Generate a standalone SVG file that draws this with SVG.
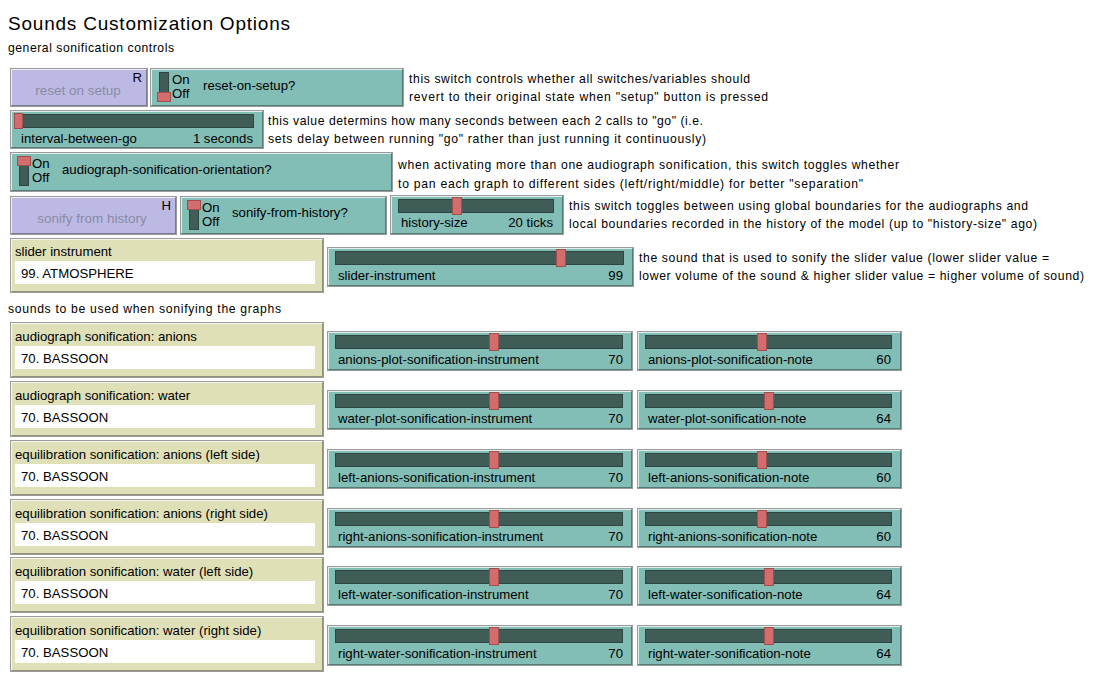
<svg xmlns="http://www.w3.org/2000/svg" width="1098" height="686" viewBox="0 0 1098 686">
<style>
text{font-family:"Liberation Sans",Arial,sans-serif;font-size:13.2px;fill:#000}
.title{font-size:19px}
.d{font-size:12.2px}
.sl,.sw{fill:#82bdb6;stroke:#9b9b9b}
.bt{fill:#bcbae4;stroke:#9b9b9b}
.ch{fill:#dfdfb8;stroke:#9b9b9b}
.hl{fill:none;stroke:#ffffff;stroke-opacity:.75}
.sh{fill:none;stroke:#000;stroke-opacity:.35}
.tr{fill:#405c57;stroke:#2e4542}
.kn{fill:#d36c6c;stroke:#a04e4e}
.slot{fill:#405c57;stroke:#2e4542}
.wb{fill:#fff}
.gt{fill:#8a8aa2;font-size:13.5px}
.end{text-anchor:end}
.mid{text-anchor:middle}
</style>
<rect width="1098" height="686" fill="#fff"/>
<text class="title" x="8" y="30" textLength="282">Sounds Customization Options</text>
<text class="d" x="8" y="52" textLength="166">general sonification controls</text>
<text class="d" x="8" y="313" textLength="273">sounds to be used when sonifying the graphs</text>

<g id="notes">
<text class="d" x="409" y="83" textLength="341">this switch controls whether all switches/variables should</text>
<text class="d" x="409" y="101" textLength="359">revert to their original state when "setup" button is pressed</text>
<text class="d" x="268" y="125" textLength="435">this value determins how many seconds between each 2 calls to "go" (i.e.</text>
<text class="d" x="268" y="143" textLength="438">sets delay between running "go" rather than just running it continuously)</text>
<text class="d" x="398" y="169" textLength="501">when activating more than one audiograph sonification, this switch toggles whether</text>
<text class="d" x="398" y="188" textLength="465">to pan each graph to different sides (left/right/middle) for better "separation"</text>
<text class="d" x="569" y="210" textLength="459">this switch toggles between using global boundaries for the audiographs and</text>
<text class="d" x="569" y="228" textLength="468">local boundaries recorded in the history of the model (up to "history-size" ago)</text>
<text class="d" x="639" y="262" textLength="410">the sound that is used to sonify the slider value (lower slider value =</text>
<text class="d" x="639" y="280" textLength="445">lower volume of the sound &amp; higher slider value = higher volume of sound)</text>
</g>

<g id="btn-reset">
<rect class="bt" x="10.5" y="68.5" width="137" height="38"/>
<path class="hl" d="M11.5,105 V69.5 H146"/><path class="sh" d="M11.5,105.5 H146.5 V69.5"/>
<text class="gt mid" x="78" y="95">reset on setup</text>
<text class="end" x="142" y="82">R</text>
</g>
<g id="sw-reset">
<rect class="sw" x="150.5" y="68.5" width="253" height="38"/>
<path class="hl" d="M151.5,105 V69.5 H402"/><path class="sh" d="M151.5,105.5 H402.5 V69.5"/>
<rect class="slot" x="159.5" y="72.5" width="9" height="29"/>
<rect class="kn" x="157.5" y="92.5" width="13" height="9"/>
<text x="172" y="84">On</text><text x="172" y="98">Off</text>
<text x="203" y="90">reset-on-setup?</text>
</g>
<g id="sl-interval">
<rect class="sl" x="10.5" y="110.5" width="253" height="38"/>
<path class="hl" d="M11.5,147 V111.5 H262"/><path class="sh" d="M11.5,147.5 H262.5 V111.5"/>
<rect class="tr" x="18.5" y="114.5" width="235" height="13"/>
<rect class="kn" x="14.5" y="113.5" width="8" height="15"/>
<text x="21" y="143">interval-between-go</text>
<text class="end" x="253" y="143">1 seconds</text>
</g>
<g id="sw-orient">
<rect class="sw" x="10.5" y="152.5" width="382" height="39"/>
<path class="hl" d="M11.5,190 V153.5 H391"/><path class="sh" d="M11.5,190.5 H391.5 V153.5"/>
<rect class="slot" x="19.5" y="156.5" width="9" height="29"/>
<rect class="kn" x="17.5" y="156.5" width="13" height="9"/>
<text x="32" y="168">On</text><text x="32" y="182">Off</text>
<text x="62" y="174">audiograph-sonification-orientation?</text>
</g>
<g id="btn-history">
<rect class="bt" x="10.5" y="196.5" width="166" height="38"/>
<path class="hl" d="M11.5,233 V197.5 H175"/><path class="sh" d="M11.5,233.5 H175.5 V197.5"/>
<text class="gt mid" x="92" y="223">sonify from history</text>
<text class="end" x="171" y="210">H</text>
</g>
<g id="sw-history">
<rect class="sw" x="180.5" y="196.5" width="206" height="38"/>
<path class="hl" d="M181.5,233 V197.5 H385"/><path class="sh" d="M181.5,233.5 H385.5 V197.5"/>
<rect class="slot" x="189.5" y="200.5" width="9" height="29"/>
<rect class="kn" x="187.5" y="200.5" width="13" height="9"/>
<text x="202" y="212">On</text><text x="202" y="226">Off</text>
<text x="232" y="217">sonify-from-history?</text>
</g>
<g id="sl-history">
<rect class="sl" x="390.5" y="195.5" width="173" height="39"/>
<path class="hl" d="M391.5,233 V196.5 H562"/><path class="sh" d="M391.5,233.5 H562.5 V196.5"/>
<rect class="tr" x="398.5" y="199.5" width="155" height="13"/>
<rect class="kn" x="452.5" y="197.5" width="9" height="17"/>
<text x="401" y="227">history-size</text>
<text class="end" x="553" y="227">20 ticks</text>
</g>
<g id="ch-slider">
<rect class="ch" x="10.5" y="238.5" width="313" height="54"/>
<path class="hl" d="M11.5,291 V239.5 H322"/><path class="sh" d="M11.5,291.5 H322.5 V239.5"/>
<rect class="wb" x="15" y="261" width="300" height="23"/>
<text x="15" y="256">slider instrument</text>
<text x="21" y="278">99. ATMOSPHERE</text>
</g>
<g id="sl-slider">
<rect class="sl" x="327.5" y="247.5" width="306" height="39"/>
<path class="hl" d="M328.5,285 V248.5 H632"/><path class="sh" d="M328.5,285.5 H632.5 V248.5"/>
<rect class="tr" x="335.5" y="251.5" width="288" height="13"/>
<rect class="kn" x="556.5" y="249.5" width="9" height="17"/>
<text x="338" y="280">slider-instrument</text>
<text class="end" x="623" y="280">99</text>
</g>

<g id="row1">
<rect class="ch" x="10.5" y="322.5" width="313" height="55"/>
<path class="hl" d="M11.5,376 V323.5 H322"/><path class="sh" d="M11.5,376.5 H322.5 V323.5"/>
<rect class="wb" x="15" y="346" width="300" height="23"/>
<text x="15" y="341">audiograph sonification: anions</text>
<text x="21" y="363">70. BASSOON</text>
<rect class="sl" x="327.5" y="331.5" width="305" height="39"/>
<path class="hl" d="M328.5,369 V332.5 H631"/><path class="sh" d="M328.5,369.5 H631.5 V332.5"/>
<rect class="tr" x="335.5" y="335.5" width="287" height="13"/>
<rect class="kn" x="489.5" y="333.5" width="9" height="17"/>
<text x="338" y="364">anions-plot-sonification-instrument</text>
<text class="end" x="623" y="364">70</text>
<rect class="sl" x="637.5" y="331.5" width="264" height="39"/>
<path class="hl" d="M638.5,369 V332.5 H900"/><path class="sh" d="M638.5,369.5 H900.5 V332.5"/>
<rect class="tr" x="645.5" y="335.5" width="246" height="13"/>
<rect class="kn" x="757.5" y="333.5" width="9" height="17"/>
<text x="648" y="364">anions-plot-sonification-note</text>
<text class="end" x="891" y="364">60</text>
</g>
<g id="row2">
<rect class="ch" x="10.5" y="381.5" width="313" height="55"/>
<path class="hl" d="M11.5,435 V382.5 H322"/><path class="sh" d="M11.5,435.5 H322.5 V382.5"/>
<rect class="wb" x="15" y="405" width="300" height="23"/>
<text x="15" y="400">audiograph sonification: water</text>
<text x="21" y="422">70. BASSOON</text>
<rect class="sl" x="327.5" y="390.5" width="305" height="39"/>
<path class="hl" d="M328.5,428 V391.5 H631"/><path class="sh" d="M328.5,428.5 H631.5 V391.5"/>
<rect class="tr" x="335.5" y="394.5" width="287" height="13"/>
<rect class="kn" x="489.5" y="392.5" width="9" height="17"/>
<text x="338" y="423">water-plot-sonification-instrument</text>
<text class="end" x="623" y="423">70</text>
<rect class="sl" x="637.5" y="390.5" width="264" height="39"/>
<path class="hl" d="M638.5,428 V391.5 H900"/><path class="sh" d="M638.5,428.5 H900.5 V391.5"/>
<rect class="tr" x="645.5" y="394.5" width="246" height="13"/>
<rect class="kn" x="764.5" y="392.5" width="9" height="17"/>
<text x="648" y="423">water-plot-sonification-note</text>
<text class="end" x="891" y="423">64</text>
</g>
<g id="row3">
<rect class="ch" x="10.5" y="440.5" width="313" height="55"/>
<path class="hl" d="M11.5,494 V441.5 H322"/><path class="sh" d="M11.5,494.5 H322.5 V441.5"/>
<rect class="wb" x="15" y="464" width="300" height="23"/>
<text x="15" y="459">equilibration sonification: anions (left side)</text>
<text x="21" y="481">70. BASSOON</text>
<rect class="sl" x="327.5" y="449.5" width="305" height="39"/>
<path class="hl" d="M328.5,487 V450.5 H631"/><path class="sh" d="M328.5,487.5 H631.5 V450.5"/>
<rect class="tr" x="335.5" y="453.5" width="287" height="13"/>
<rect class="kn" x="489.5" y="451.5" width="9" height="17"/>
<text x="338" y="482">left-anions-sonification-instrument</text>
<text class="end" x="623" y="482">70</text>
<rect class="sl" x="637.5" y="449.5" width="264" height="39"/>
<path class="hl" d="M638.5,487 V450.5 H900"/><path class="sh" d="M638.5,487.5 H900.5 V450.5"/>
<rect class="tr" x="645.5" y="453.5" width="246" height="13"/>
<rect class="kn" x="757.5" y="451.5" width="9" height="17"/>
<text x="648" y="482">left-anions-sonification-note</text>
<text class="end" x="891" y="482">60</text>
</g>
<g id="row4">
<rect class="ch" x="10.5" y="499.5" width="313" height="55"/>
<path class="hl" d="M11.5,553 V500.5 H322"/><path class="sh" d="M11.5,553.5 H322.5 V500.5"/>
<rect class="wb" x="15" y="523" width="300" height="23"/>
<text x="15" y="518">equilibration sonification: anions (right side)</text>
<text x="21" y="540">70. BASSOON</text>
<rect class="sl" x="327.5" y="508.5" width="305" height="39"/>
<path class="hl" d="M328.5,546 V509.5 H631"/><path class="sh" d="M328.5,546.5 H631.5 V509.5"/>
<rect class="tr" x="335.5" y="512.5" width="287" height="13"/>
<rect class="kn" x="489.5" y="510.5" width="9" height="17"/>
<text x="338" y="541">right-anions-sonification-instrument</text>
<text class="end" x="623" y="541">70</text>
<rect class="sl" x="637.5" y="508.5" width="264" height="39"/>
<path class="hl" d="M638.5,546 V509.5 H900"/><path class="sh" d="M638.5,546.5 H900.5 V509.5"/>
<rect class="tr" x="645.5" y="512.5" width="246" height="13"/>
<rect class="kn" x="757.5" y="510.5" width="9" height="17"/>
<text x="648" y="541">right-anions-sonification-note</text>
<text class="end" x="891" y="541">60</text>
</g>
<g id="row5">
<rect class="ch" x="10.5" y="557.5" width="313" height="55"/>
<path class="hl" d="M11.5,611 V558.5 H322"/><path class="sh" d="M11.5,611.5 H322.5 V558.5"/>
<rect class="wb" x="15" y="581" width="300" height="23"/>
<text x="15" y="576">equilibration sonification: water (left side)</text>
<text x="21" y="598">70. BASSOON</text>
<rect class="sl" x="327.5" y="566.5" width="305" height="39"/>
<path class="hl" d="M328.5,604 V567.5 H631"/><path class="sh" d="M328.5,604.5 H631.5 V567.5"/>
<rect class="tr" x="335.5" y="570.5" width="287" height="13"/>
<rect class="kn" x="489.5" y="568.5" width="9" height="17"/>
<text x="338" y="599">left-water-sonification-instrument</text>
<text class="end" x="623" y="599">70</text>
<rect class="sl" x="637.5" y="566.5" width="264" height="39"/>
<path class="hl" d="M638.5,604 V567.5 H900"/><path class="sh" d="M638.5,604.5 H900.5 V567.5"/>
<rect class="tr" x="645.5" y="570.5" width="246" height="13"/>
<rect class="kn" x="764.5" y="568.5" width="9" height="17"/>
<text x="648" y="599">left-water-sonification-note</text>
<text class="end" x="891" y="599">64</text>
</g>
<g id="row6">
<rect class="ch" x="10.5" y="616.5" width="313" height="55"/>
<path class="hl" d="M11.5,670 V617.5 H322"/><path class="sh" d="M11.5,670.5 H322.5 V617.5"/>
<rect class="wb" x="15" y="640" width="300" height="23"/>
<text x="15" y="635">equilibration sonification: water (right side)</text>
<text x="21" y="657">70. BASSOON</text>
<rect class="sl" x="327.5" y="625.5" width="305" height="40"/>
<path class="hl" d="M328.5,664 V626.5 H631"/><path class="sh" d="M328.5,664.5 H631.5 V626.5"/>
<rect class="tr" x="335.5" y="629.5" width="287" height="13"/>
<rect class="kn" x="489.5" y="627.5" width="9" height="17"/>
<text x="338" y="658">right-water-sonification-instrument</text>
<text class="end" x="623" y="658">70</text>
<rect class="sl" x="637.5" y="625.5" width="264" height="40"/>
<path class="hl" d="M638.5,664 V626.5 H900"/><path class="sh" d="M638.5,664.5 H900.5 V626.5"/>
<rect class="tr" x="645.5" y="629.5" width="246" height="13"/>
<rect class="kn" x="764.5" y="627.5" width="9" height="17"/>
<text x="648" y="658">right-water-sonification-note</text>
<text class="end" x="891" y="658">64</text>
</g>
</svg>
